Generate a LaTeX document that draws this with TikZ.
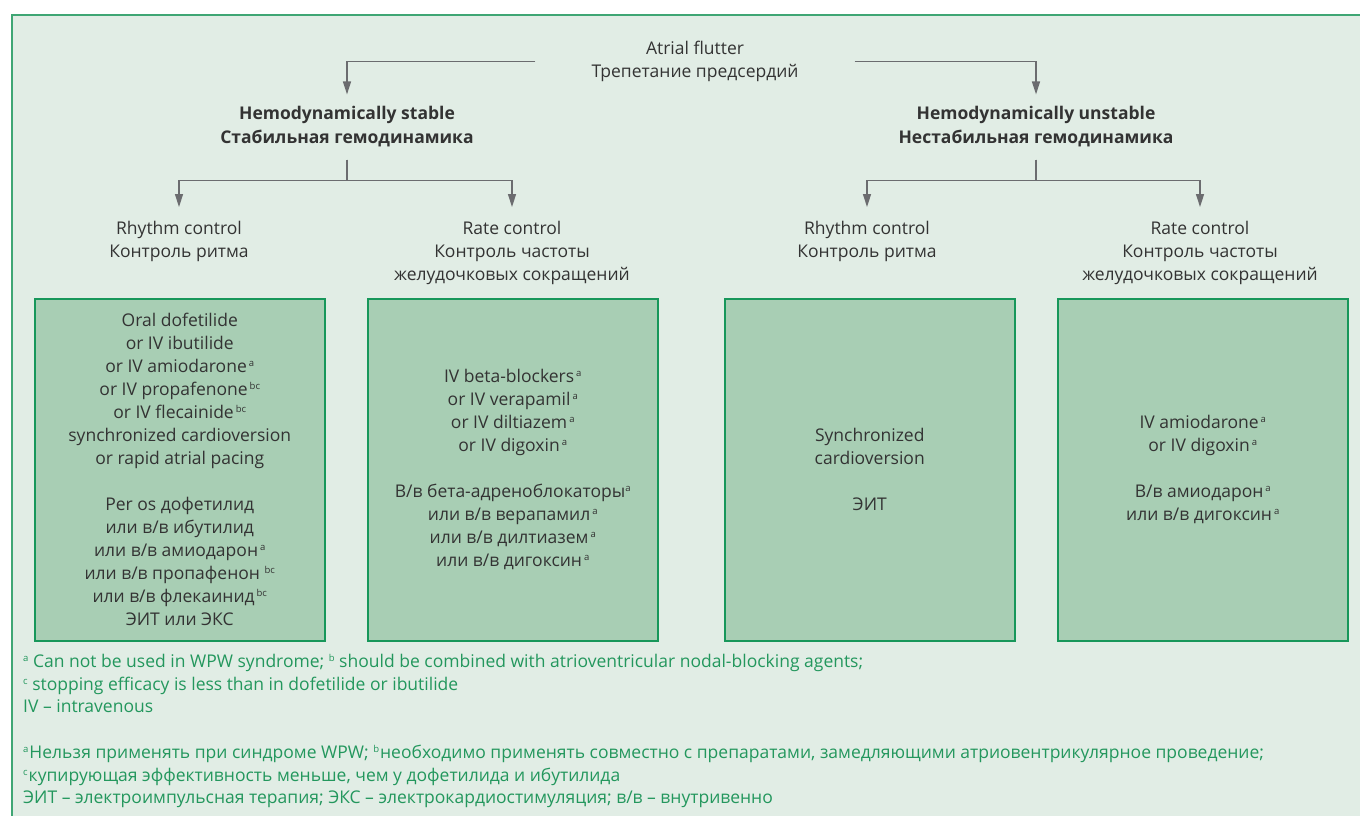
\documentclass[tikz,border=0pt]{standalone}
\usepackage{fontspec}
\setmainfont{Open Sans}
\usetikzlibrary{arrows.meta}
\definecolor{bgc}{HTML}{E1EDE5}
\definecolor{boxc}{HTML}{A8CEB4}
\definecolor{boxl}{HTML}{17975A}
\definecolor{framec}{HTML}{3FA674}
\definecolor{arrc}{HTML}{6B6C6F}
\definecolor{txtc}{HTML}{333333}
\definecolor{footc}{HTML}{23975D}
\newcommand\sps[1]{\raisebox{6pt}{\fontsize{9.5}{9.5}\selectfont #1}}
\begin{document}
\begin{tikzpicture}[x=1pt,y=-1pt,
  txt/.style={font=\fontsize{17.5}{23}\selectfont, text=txtc, align=center, inner sep=0pt},
  head/.style={font=\fontsize{17.5}{24}\selectfont\bfseries, text=txtc, align=center, inner xsep=0pt, inner ysep=10pt},
  lbl/.style={txt, anchor=north, inner ysep=14pt},
  drug/.style={txt, draw=boxl, fill=boxc, line width=1.5pt, minimum width=290pt, minimum height=342pt, anchor=north west},
  foot/.style={font=\fontsize{17.5}{22.5}\selectfont, text=footc, align=left, anchor=north west, inner sep=0pt},
  arr/.style={draw=arrc, line width=1.5pt, -{Triangle[length=13pt,width=8pt]}},
  ln/.style={draw=arrc, line width=1.5pt}
]
\useasboundingbox (0,0) rectangle (1360,816);
\fill[white] (0,0) rectangle (1360,816);
\fill[bgc] (12,15) rectangle (1360,816);
\draw[framec, line width=2pt] (12,816) -- (12,15) -- (1360,15);

\node[txt] (af) at (695,61.5) {Atrial flutter\\Трепетание предсердий};
\node[head, inner ysep=12pt] (stab) at (347,127) {Hemodynamically stable\\Стабильная гемодинамика};
\node[head, inner ysep=12pt] (unst) at (1036,127) {Hemodynamically unstable\\Нестабильная гемодинамика};

\node[lbl] (rc1) at (179,207) {Rhythm control\\Контроль ритма};
\node[lbl] (rt1) at (512,207) {Rate control\\Контроль частоты\\желудочковых сокращений};
\node[lbl] (rc2) at (867,207) {Rhythm control\\Контроль ритма};
\node[lbl] (rt2) at (1200,207) {Rate control\\Контроль частоты\\желудочковых сокращений};

\draw[arr] ([xshift=-56pt]af.west) -| (stab.north);
\draw[arr] ([xshift=56pt]af.east) -| (unst.north);
\draw[arr] (stab.south) -- ++(0,21) -| (rc1.north);
\draw[arr] (stab.south) -- ++(0,21) -| (rt1.north);
\draw[arr] (unst.south) -- ++(0,21) -| (rc2.north);
\draw[arr] (unst.south) -- ++(0,21) -| (rt2.north);

\node[drug] (b1) at (34,298) {Oral dofetilide\\or IV ibutilide\\or IV amiodarone\hspace{2pt}\sps{a}\\or IV propafenone\hspace{2pt}\sps{bc}\\or IV flecainide\hspace{2pt}\sps{bc}\\synchronized cardioversion\\or rapid atrial pacing\\[23pt]Per os дофетилид\\или в/в ибутилид\\или в/в амиодарон\hspace{2pt}\sps{a}\\или в/в пропафенон \sps{bc}\\или в/в флекаинид\hspace{2pt}\sps{bc}\\ЭИТ или ЭКС};
\node[drug] (b2) at (367,298) {IV beta-blockers\hspace{2pt}\sps{a}\\or IV verapamil\hspace{2pt}\sps{a}\\or IV diltiazem\hspace{2pt}\sps{a}\\or IV digoxin\hspace{2pt}\sps{a}\\[23pt]В/в бета-адреноблокаторы\sps{a}\\или в/в верапамил\hspace{2pt}\sps{a}\\или в/в дилтиазем\hspace{2pt}\sps{a}\\или в/в дигоксин\hspace{2pt}\sps{a}};
\node[drug] (b3) at (724,298) {Synchronized\\cardioversion\\[23pt]ЭИТ};
\node[drug] (b4) at (1057,298) {IV amiodarone\hspace{2pt}\sps{a}\\or IV digoxin\hspace{2pt}\sps{a}\\[23pt]В/в амиодарон\hspace{2pt}\sps{a}\\или в/в дигоксин\hspace{2pt}\sps{a}};

\node[foot] (f1) at (23,654) {\sps{a} Can not be used in WPW syndrome; \sps{b} should be combined with atrioventricular nodal-blocking agents;\\\sps{c} stopping efficacy is less than in dofetilide or ibutilide\\IV – intravenous};
\node[foot] (f2) at (23,745) {\sps{a}\hspace{1pt}Нельзя применять при синдроме WPW; \sps{b}\hspace{1pt}необходимо применять совместно с препаратами, замедляющими атриовентрикулярное проведение;\\\sps{c}\hspace{1pt}купирующая эффективность меньше, чем у дофетилида и ибутилида\\ЭИТ – электроимпульсная терапия; ЭКС – электрокардиостимуляция; в/в – внутривенно};
\end{tikzpicture}
\end{document}
